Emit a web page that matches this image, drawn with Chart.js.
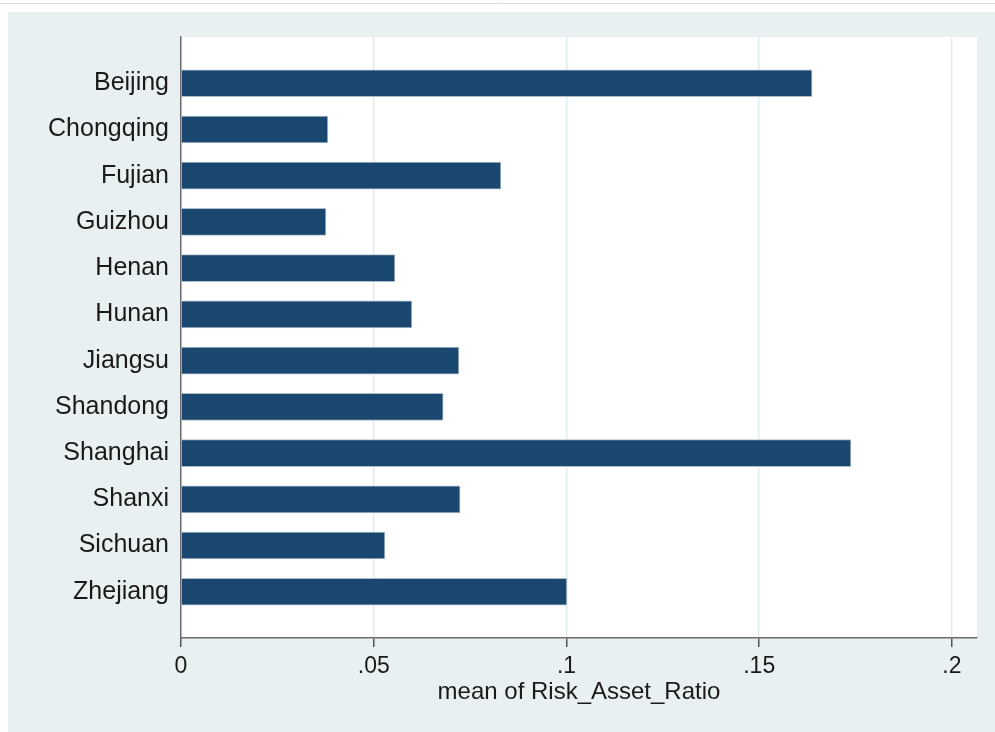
<!DOCTYPE html>
<html>
<head>
<meta charset="utf-8">
<script src="https://cdn.jsdelivr.net/npm/chart.js@4/dist/chart.umd.min.js"></script>
<style>
html,body{margin:0;padding:0;background:#fff;}
#wrap{width:995px;height:732px;position:relative;}
</style>
</head>
<body>
<div id="wrap"><canvas id="c" width="995" height="732"></canvas></div>
<script>
const categories = ['Beijing','Chongqing','Fujian','Guizhou','Henan','Hunan','Jiangsu','Shandong','Shanghai','Shanxi','Sichuan','Zhejiang'];
const riskAssetRatio = [0.1637, 0.0381, 0.0830, 0.0376, 0.0555, 0.0599, 0.0721, 0.0680, 0.1738, 0.0724, 0.0529, 0.1001];
const xTickValues = [0, 0.05, 0.1, 0.15, 0.2];
const xTickLabels = ['0', '.05', '.1', '.15', '.2'];
const xTitle = 'mean of Risk_Asset_Ratio';

// pad the category axis with an empty slot at each end (Stata-style outer gap)
const yLabels = [''].concat(categories, ['']);
const yData = [null].concat(riskAssetRatio, [null]);

const FONT = '"Liberation Sans", Arial, Helvetica, sans-serif';

const bgPlugin = {
  id: 'bg',
  beforeDraw(chart) {
    const ctx = chart.ctx;
    const a = chart.chartArea;
    ctx.save();
    ctx.fillStyle = '#ffffff';
    ctx.fillRect(0, 0, chart.width, chart.height);
    ctx.strokeStyle = '#dcdcdc';
    ctx.lineWidth = 1;
    ctx.beginPath();
    ctx.moveTo(0, 3.5);
    ctx.lineTo(chart.width, 3.5);
    ctx.stroke();
    ctx.fillStyle = '#e9f0f2';
    ctx.fillRect(8, 12, chart.width - 8, chart.height - 12);
    ctx.fillStyle = '#ffffff';
    ctx.fillRect(a.left, a.top, a.right - a.left, a.bottom - a.top);
    ctx.restore();
  }
};

new Chart(document.getElementById('c'), {
  type: 'bar',
  data: {
    labels: yLabels,
    datasets: [{
      data: yData,
      backgroundColor: '#1a476f',
      borderColor: '#aebdca',
      borderWidth: 1,
      barThickness: 27
    }]
  },
  plugins: [bgPlugin],
  options: {
    indexAxis: 'y',
    responsive: false,
    animation: false,
    layout: { padding: { top: 37, right: 18, left: 0, bottom: 0 } },
    plugins: { legend: { display: false }, tooltip: { enabled: false } },
    scales: {
      y: {
        type: 'category',
        offset: false,
        grid: { display: false, drawTicks: false },
        border: { display: true, color: '#6b6b6b', width: 1.5 },
        ticks: {
          color: '#1a1a1a',
          padding: 12,
          autoSkip: false,
          font: { family: FONT, size: 25 }
        },
        afterFit(scale) { scale.width = 181; }
      },
      x: {
        type: 'linear',
        min: 0,
        max: 0.2065,
        grid: {
          color: (ctx) => (ctx.tick && ctx.tick.value === 0) ? 'rgba(0,0,0,0)' : '#e1ebef',
          lineWidth: 1.5,
          drawTicks: true,
          tickLength: 9,
          tickColor: '#555555',
          tickWidth: 1.5
        },
        border: { display: true, color: '#6b6b6b', width: 1.5 },
        ticks: {
          includeBounds: false,
          color: '#1a1a1a',
          padding: 6,
          maxRotation: 0,
          font: { family: FONT, size: 23 },
          callback: (v) => {
            const i = xTickValues.findIndex(t => Math.abs(t - v) < 1e-9);
            return i >= 0 ? xTickLabels[i] : '';
          }
        },
        afterBuildTicks(scale) { scale.ticks = xTickValues.map(v => ({ value: v })); },
        title: {
          display: true,
          text: xTitle,
          color: '#1a1a1a',
          font: { family: FONT, size: 24 },
          padding: { top: 0, bottom: 25 }
        },
        afterFit(scale) { scale.height = 94; }
      }
    }
  }
});
</script>
</body>
</html>
